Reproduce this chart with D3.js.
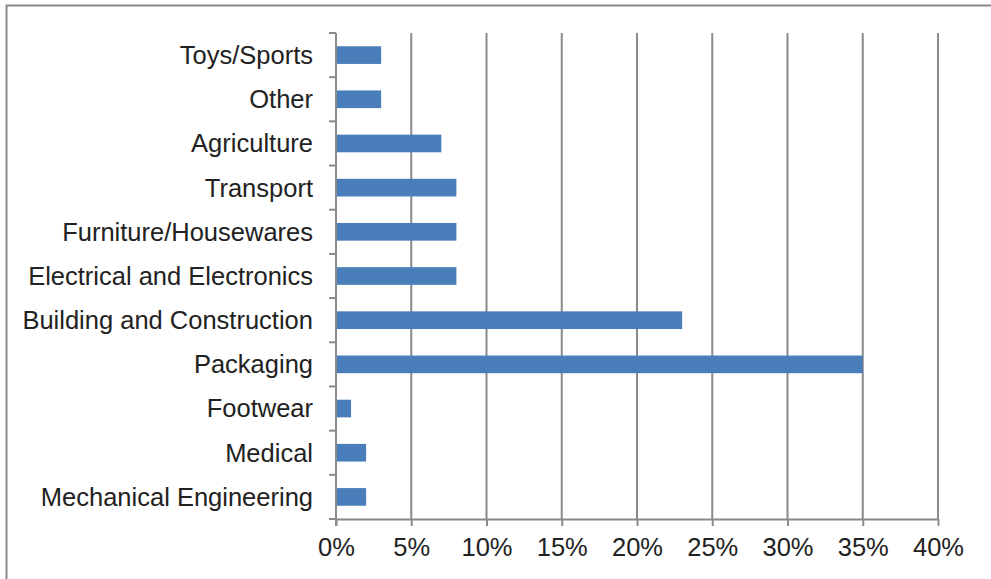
<!DOCTYPE html>
<html>
<head>
<meta charset="utf-8">
<script src="https://cdn.jsdelivr.net/npm/d3@7"></script>
<style>
  body { margin: 0; background: #fff; }
  text { font-family: "Liberation Sans", Arial, Helvetica, sans-serif; fill: #222; }
</style>
</head>
<body>
<div id="chart"></div>
<script>
// Data, top row first
var categories = ["Toys/Sports", "Other", "Agriculture", "Transport", "Furniture/Housewares",
                  "Electrical and Electronics", "Building and Construction", "Packaging",
                  "Footwear", "Medical", "Mechanical Engineering"];
var shares = [3, 3, 7, 8, 8, 8, 23, 35, 1, 2, 2];
var xTicks = [0, 5, 10, 15, 20, 25, 30, 35, 40];

var w = 991;
var h = 579;
var plotLeft = 336, plotRight = 938, plotTop = 33, plotBottom = 519;
var gray = "#8a8a8d";

var svg = d3.select("#chart")
            .append("svg")
            .attr("width", w)
            .attr("height", h);

// outer frame (right and bottom edges fall off the picture)
svg.append("rect")
   .attr("x", 6.5).attr("y", 5.5)
   .attr("width", 1000).attr("height", 600)
   .attr("fill", "none")
   .attr("stroke", gray)
   .attr("stroke-width", 2);

var xScale = d3.scaleLinear()
               .domain([0, 40])
               .range([plotLeft, plotRight]);

var yScale = d3.scaleBand()
               .domain(categories)
               .range([plotTop, plotBottom])
               .paddingInner(0.6)
               .paddingOuter(0.3);

// vertical gridlines
svg.append("g")
   .selectAll("line")
   .data(xTicks.slice(1))
   .join("line")
   .attr("x1", d => xScale(d)).attr("x2", d => xScale(d))
   .attr("y1", plotTop).attr("y2", plotBottom)
   .attr("stroke", gray)
   .attr("stroke-width", 2);

// bars
svg.append("g")
   .selectAll("rect")
   .data(categories)
   .join("rect")
   .attr("x", xScale(0))
   .attr("y", d => yScale(d))
   .attr("width", (d, i) => xScale(shares[i]) - xScale(0))
   .attr("height", yScale.bandwidth())
   .attr("fill", "#4a7ebb");

// x axis
var xAxis = d3.axisBottom(xScale)
              .tickValues(xTicks)
              .tickFormat(d => d + "%")
              .tickSize(7)
              .tickPadding(12)
              .tickSizeOuter(0);

var gx = svg.append("g")
            .attr("transform", `translate(0, ${plotBottom})`)
            .call(xAxis);
gx.selectAll("text").style("font-size", "25.5px");
gx.selectAll("line, path").attr("stroke", gray).attr("stroke-width", 2);

// y axis: ticks on band edges, labels centred in the bands
var edges = d3.range(categories.length + 1)
              .map(i => plotTop + i * (plotBottom - plotTop) / categories.length);

var gy = svg.append("g");
gy.append("line")
  .attr("x1", plotLeft).attr("x2", plotLeft)
  .attr("y1", plotTop).attr("y2", plotBottom + 7);
gy.selectAll("line.tick")
  .data(edges)
  .join("line")
  .attr("class", "tick")
  .attr("x1", plotLeft - 7).attr("x2", plotLeft)
  .attr("y1", d => d).attr("y2", d => d);
gy.selectAll("line").attr("stroke", gray).attr("stroke-width", 2);
gy.selectAll("text")
  .data(categories)
  .join("text")
  .attr("x", plotLeft - 23)
  .attr("y", d => yScale(d) + yScale.bandwidth() / 2)
  .attr("dy", "0.35em")
  .attr("text-anchor", "end")
  .style("font-size", "25.5px")
  .text(d => d);
</script>
</body>
</html>
